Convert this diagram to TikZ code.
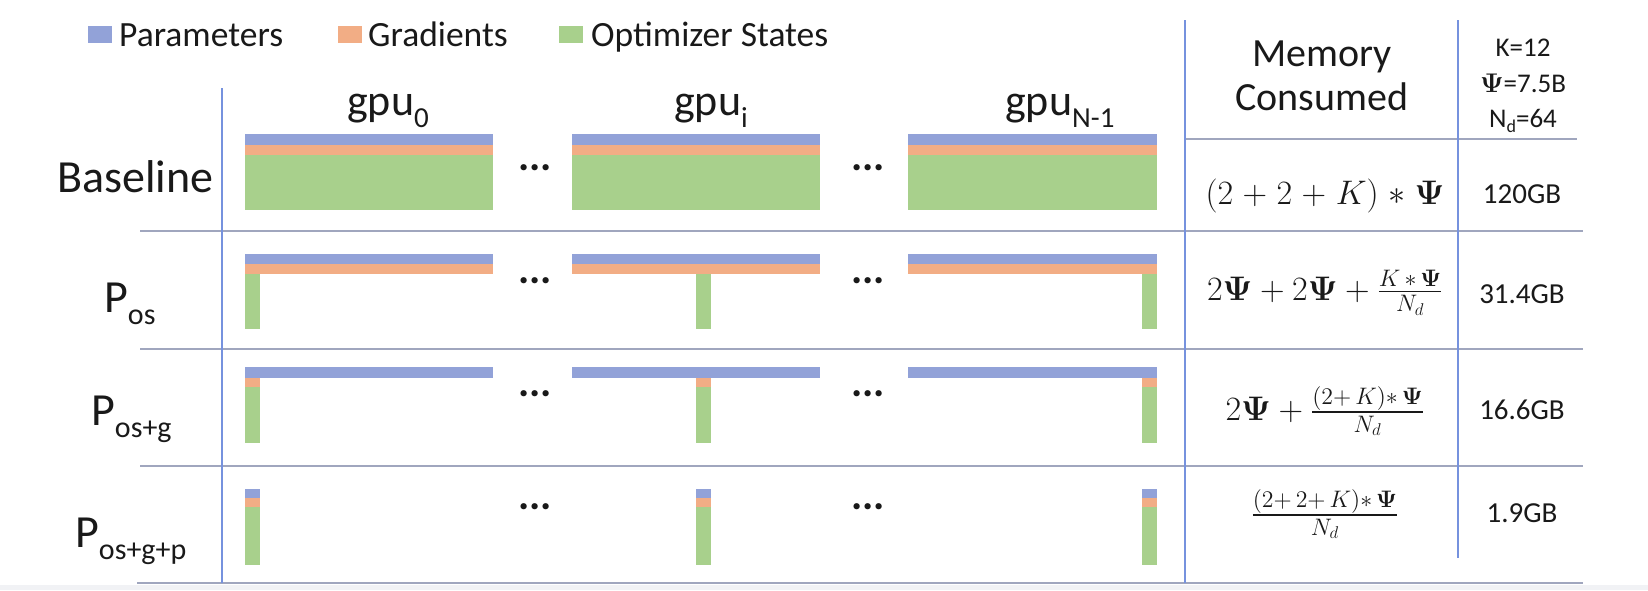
\RequirePackage{fix-cm}
\documentclass[tikz,border=0pt]{standalone}
\usepackage{amsmath,amssymb}
\usepackage{graphicx}
\usepackage[no-math]{fontspec}
\setmainfont{Carlito}

\definecolor{parblue}{RGB}{146,162,216}
\definecolor{gradorange}{RGB}{242,173,133}
\definecolor{optgreen}{RGB}{168,208,140}
\definecolor{rulegray}{RGB}{160,166,190}
\definecolor{ruleblue}{RGB}{118,146,222}
\definecolor{stripgray}{RGB}{241,242,245}
\definecolor{inkgray}{RGB}{25,25,25}

\newcommand{\psub}[1]{P\raisebox{-12pt}{\fontsize{30}{32}\selectfont #1}}
\newcommand{\gsub}[1]{gpu\raisebox{-12pt}{\fontsize{29}{30}\selectfont #1}}
\newcommand{\bpsi}{\boldsymbol{\Psi}}
\newcommand{\bigeq}[1]{\scalebox{1.42}{$#1$}}

\begin{document}
\begin{tikzpicture}[x=1pt, y=-1pt,
  lbl/.style={inner sep=0pt, text=inkgray},
  rowlbl/.style={lbl, font=\fontsize{46}{50}\selectfont},
  gpulbl/.style={lbl, font=\fontsize{44}{48}\selectfont},
  leglbl/.style={lbl, font=\fontsize{35.5}{40}\selectfont},
  hdrlbl/.style={lbl, font=\fontsize{40}{44}\selectfont},
  celltxt/.style={lbl, font=\fontsize{29}{32}\selectfont},
  parmtxt/.style={lbl, font=\fontsize{27}{30}\selectfont},
  eqntxt/.style={lbl, font=\fontsize{24}{26}\selectfont},
  ellip/.style={lbl, font=\fontsize{42}{42}\selectfont\bfseries},
  gridh/.style={rulegray, line width=2pt},
  gridv/.style={ruleblue, line width=1.6pt},
  parfill/.style={fill=parblue},
  gradfill/.style={fill=gradorange},
  optfill/.style={fill=optgreen}]
  \useasboundingbox (0,0) rectangle (1648,590);
  \fill[stripgray] (0,585) rectangle (1648,590);

  \fill[parfill] (88,26) rectangle (112,43);
  \node[leglbl, anchor=base west] (legpar) at (119,46) {Parameters};
  \fill[gradfill] (338,26) rectangle (362,43);
  \node[leglbl, anchor=base west] (leggrad) at (368,46) {Gradients};
  \fill[optfill] (559,26) rectangle (583,43);
  \node[leglbl, anchor=base west] (legopt) at (591,46) {Optimizer States};

  \node[gpulbl, anchor=base west] (gpu0) at (347,115) {\gsub{0}};
  \node[gpulbl, anchor=base west] (gpui) at (674,115) {\gsub{i}};
  \node[gpulbl, anchor=base west] (gpun) at (1005,115) {\gsub{N-1}};

  \node[rowlbl, anchor=base west] (base) at (57,192) {Baseline};
  \node[rowlbl, anchor=base west] (pos) at (104,312) {\psub{os}};
  \node[rowlbl, anchor=base west] (posg) at (91,425) {\psub{os+g}};
  \node[rowlbl, anchor=base west] (posgp) at (75,547) {\psub{os+g+p}};

  \foreach \a/\b in {245/493, 572/820, 908/1157} {
    \fill[parfill] (\a,134) rectangle (\b,145);
    \fill[gradfill] (\a,145) rectangle (\b,155);
    \fill[optfill] (\a,155) rectangle (\b,210);
    \fill[parfill] (\a,254) rectangle (\b,264);
    \fill[gradfill] (\a,264) rectangle (\b,274);
    \fill[parfill] (\a,367) rectangle (\b,378);
  }
  \foreach \s in {245, 696, 1142} {
    \fill[optfill] (\s,274) rectangle (\s+15,329);
    \fill[gradfill] (\s,378) rectangle (\s+15,387);
    \fill[optfill] (\s,387) rectangle (\s+15,443);
    \fill[parfill] (\s,489) rectangle (\s+15,498);
    \fill[gradfill] (\s,498) rectangle (\s+15,507);
    \fill[optfill] (\s,507) rectangle (\s+15,565);
  }
  \foreach \y/\r in {168/1, 281/2, 394/3, 507/4} {
    \node[ellip] (dl\r) at (535,\y) {...};
    \node[ellip] (dr\r) at (868,\y) {...};
  }

  \node[hdrlbl, anchor=base] (mem) at (1322,66) {Memory};
  \node[hdrlbl, anchor=base] (cons) at (1322,110) {Consumed};
  \node[parmtxt, anchor=base] (kval) at (1523,56) {K=12};
  \node[parmtxt, anchor=base] (psival) at (1523,92) {$\bpsi$=7.5B};
  \node[parmtxt, anchor=base] (ndval) at (1523,127) {N\raisebox{-5pt}{\fontsize{18}{18}\selectfont d}=64};

  \node[eqntxt] (f1) at (1325,196) {\bigeq{\medmuskip=5mu (2+2+K)*\bpsi}};
  \node[eqntxt] (f2) at (1325,293) {\bigeq{2\bpsi+2\bpsi+\frac{K\,*\,\bpsi}{N_d}}};
  \node[eqntxt] (f3) at (1325,411) {\bigeq{2\bpsi+\frac{(2+\,K)*\,\bpsi}{N_d}}};
  \node[eqntxt] (f4) at (1325,514) {\bigeq{\frac{(2+\,2+\,K)*\,\bpsi}{N_d}}};
  \node[celltxt] (m1) at (1522,194) {120GB};
  \node[celltxt] (m2) at (1522,294) {31.4GB};
  \node[celltxt] (m3) at (1522,410) {16.6GB};
  \node[celltxt] (m4) at (1522,513) {1.9GB};

  \draw[gridh] (1185,139) -- (1577,139);
  \draw[gridh] (140,231) -- (1583,231);
  \draw[gridh] (140,349) -- (1583,349);
  \draw[gridh] (140,466) -- (1583,466);
  \draw[gridh] (137,583) -- (1583,583);
  \draw[gridv] (222,88) -- (222,583);
  \draw[gridv] (1185,20) -- (1185,583);
  \draw[gridv] (1458,20) -- (1458,558);
\end{tikzpicture}
\end{document}
